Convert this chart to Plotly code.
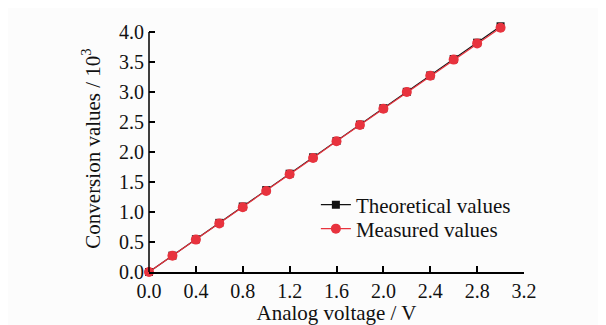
import plotly.graph_objects as go

voltage = [0.0, 0.2, 0.4, 0.6, 0.8, 1.0, 1.2, 1.4, 1.6, 1.8, 2.0, 2.2, 2.4, 2.6, 2.8, 3.0]
theoretical = [0.0, 0.273, 0.546, 0.819, 1.092, 1.365, 1.638, 1.911, 2.184, 2.457,
               2.730, 3.003, 3.276, 3.549, 3.822, 4.095]
measured = [0.0, 0.27, 0.54, 0.81, 1.08, 1.35, 1.63, 1.90, 2.18, 2.45,
            2.72, 3.00, 3.27, 3.54, 3.81, 4.07]
x_ticks = [0.0, 0.4, 0.8, 1.2, 1.6, 2.0, 2.4, 2.8, 3.2]
y_ticks = [0.0, 0.5, 1.0, 1.5, 2.0, 2.5, 3.0, 3.5, 4.0]

FONT = "Liberation Serif, Times New Roman, serif"
RED = "#e8333e"
INK = "#111111"
FS = 21
TFS = 20

fig = go.Figure()
fig.add_trace(go.Scatter(
    x=voltage, y=theoretical, mode="lines+markers", name="Theoretical values",
    line=dict(color=INK, width=1.2),
    marker=dict(symbol="square", size=8, color=INK),
    cliponaxis=False, legend="legend",
))
fig.add_trace(go.Scatter(
    x=voltage, y=measured, mode="lines+markers", name="Measured values",
    line=dict(color=RED, width=1.2),
    marker=dict(symbol="circle", size=10, color=RED),
    cliponaxis=False, legend="legend2",
))

axis_common = dict(
    ticks="inside", ticklen=6, tickwidth=1.5, tickcolor="black",
    showgrid=False, zeroline=False,
    tickfont=dict(family=FONT, size=TFS, color=INK),
)

fig.update_xaxes(
    range=[0, 3.2], tickvals=x_ticks, ticktext=[f"{v:.1f}" for v in x_ticks],
    showline=True, linecolor="black", linewidth=1.5, automargin=True,
    title=dict(text="Analog voltage / V", font=dict(family=FONT, size=FS, color=INK),
               standoff=2),
    **axis_common,
)
fig.update_yaxes(
    range=[0, 247 / 60], tickvals=y_ticks, ticktext=[f"{v:.1f}" for v in y_ticks],
    showline=False, ticklabelstandoff=4, automargin=False,
    title=dict(text="Conversion values / 10<sup>3</sup>",
               font=dict(family=FONT, size=FS, color=INK), standoff=12),
    **axis_common,
)

# y axis line drawn only up to the 4.0 tick, as in the reference
fig.add_shape(type="line", xref="paper", yref="y", x0=0, x1=0, y0=0, y1=y_ticks[-1],
              line=dict(color="black", width=1.5))

leg_common = dict(xanchor="left", yanchor="middle", bgcolor="rgba(0,0,0,0)",
                  font=dict(family=FONT, size=FS, color=INK), itemwidth=30)

# the page body has an 8px default margin, so the figure is sized 8px smaller
fig.update_layout(
    width=598, height=317,
    margin=dict(l=141, r=82, t=17, b=53, autoexpand=False),
    paper_bgcolor="#fcfcfc", plot_bgcolor="#fcfcfc",
    showlegend=True,
    legend=dict(x=0.445, y=(272 - 205) / 247, **leg_common),
    legend2=dict(x=0.445, y=(272 - 229) / 247, **leg_common),
)

fig.write_html("out.html")
